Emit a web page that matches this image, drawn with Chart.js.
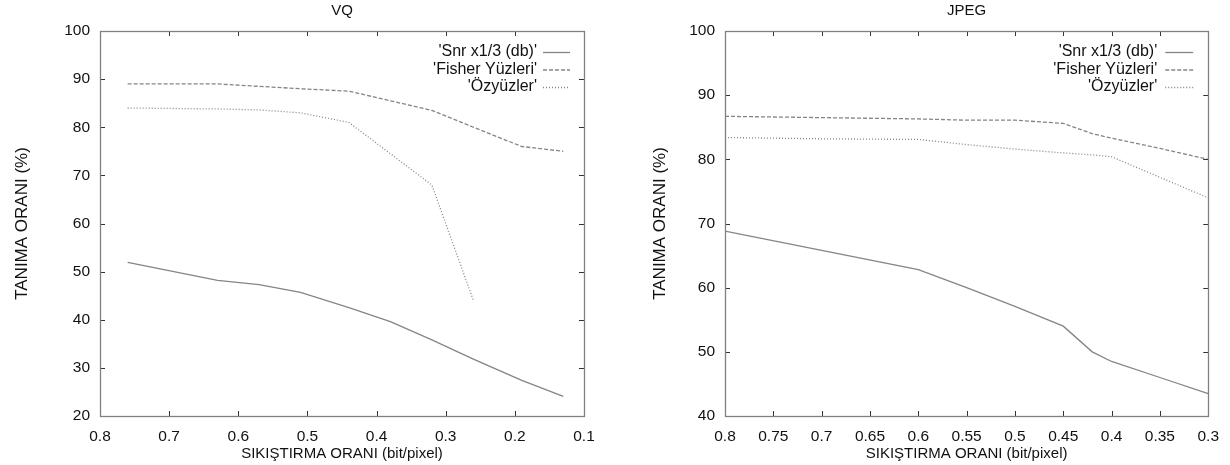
<!DOCTYPE html>
<html>
<head>
<meta charset="utf-8">
<script src="https://cdn.jsdelivr.net/npm/chart.js@4"></script>
<style>
  html, body { margin: 0; padding: 0; background: #fff; }
  .box { position: absolute; top: 0; width: 615px; height: 465px; }
  #b1 { left: 0; } #b2 { left: 615px; }
</style>
</head>
<body>
<div class="box" id="b1"><canvas id="c1" width="615" height="465"></canvas></div>
<div class="box" id="b2"><canvas id="c2" width="615" height="465"></canvas></div>
<script>
// ---- data ----
const seriesNames = ["'Snr x1/3 (db)'", "'Fisher Yüzleri'", "'Özyüzler'"];

const vqTitle = 'VQ';
const vqX      = [0.76, 0.63, 0.57, 0.51, 0.44, 0.38, 0.32, 0.26, 0.19, 0.13];
const vqSnr    = [51.9, 48.2, 47.3, 45.7, 42.5, 39.6, 35.8, 31.8, 27.4, 24.1];
const vqFisher = [89.0, 89.0, 88.5, 88.0, 87.5, 85.5, 83.5, 80.0, 76.0, 75.0];
const vqOzy    = [84.0, 83.8, 83.6, 83.0, 81.0, 74.5, 68.0, 44.0, null, null];

const jpegTitle = 'JPEG';
const jpegX      = [0.80, 0.70, 0.60, 0.55, 0.50, 0.45, 0.42, 0.40, 0.35, 0.30];
const jpegSnr    = [68.8, 65.8, 62.8, 60.0, 57.1, 54.0, 50.0, 48.5, 46.0, 43.5];
const jpegFisher = [86.7, 86.5, 86.3, 86.1, 86.1, 85.6, 84.0, 83.3, 81.7, 80.0];
const jpegOzy    = [83.4, 83.2, 83.1, 82.3, 81.6, 81.0, 80.7, 80.4, 77.2, 74.0];

const xAxisTitle = 'SIKIŞTIRMA ORANI (bit/pixel)';
const yAxisTitle = 'TANIMA ORANI (%)';

const vqXTicks = [0.8, 0.7, 0.6, 0.5, 0.4, 0.3, 0.2, 0.1];
const vqYTicks = [20, 30, 40, 50, 60, 70, 80, 90, 100];
const jpegXTicks = [0.8, 0.75, 0.7, 0.65, 0.6, 0.55, 0.5, 0.45, 0.4, 0.35, 0.3];
const jpegYTicks = [40, 50, 60, 70, 80, 90, 100];

const FONT = "'Liberation Sans', Arial, sans-serif";
const LINE = '#858585';
const dashes = [[], [4, 2], [1, 2]];

function pts(xs, ys) {
  return xs.map((x, i) => ({ x: x, y: ys[i] }));
}

const framePlugin = {
  id: 'gnuframe',
  afterDraw(chart, args, opts) {
    const ctx = chart.ctx, a = chart.chartArea;
    const xs = chart.scales.x, ys = chart.scales.y;
    ctx.save();
    // ticks (inward, mirrored)
    ctx.strokeStyle = '#333';
    ctx.lineWidth = 1;
    const tl = 5;
    ctx.beginPath();
    xs.ticks.forEach(t => {
      const px = Math.round(xs.getPixelForValue(t.value)) + 0.5;
      ctx.moveTo(px, a.bottom); ctx.lineTo(px, a.bottom - tl);
      ctx.moveTo(px, a.top); ctx.lineTo(px, a.top + tl);
    });
    ys.ticks.forEach(t => {
      const py = Math.round(ys.getPixelForValue(t.value)) + 0.5;
      ctx.moveTo(a.left, py); ctx.lineTo(a.left + tl, py);
      ctx.moveTo(a.right, py); ctx.lineTo(a.right - tl, py);
    });
    ctx.stroke();
    // frame
    ctx.strokeStyle = '#808080';
    ctx.lineWidth = 1.3;
    ctx.strokeRect(Math.round(a.left) + 0.5, Math.round(a.top) + 0.5,
                   Math.round(a.right - a.left), Math.round(a.bottom - a.top));
    // title
    ctx.fillStyle = '#111';
    ctx.font = '15px ' + FONT;
    ctx.textAlign = 'center';
    ctx.textBaseline = 'middle';
    ctx.fillText(opts.title, (a.left + a.right) / 2, 11);
    // legend (gnuplot style: text right-aligned, sample to its right)
    ctx.font = '16px ' + FONT;
    ctx.textAlign = 'right';
    chart.data.datasets.forEach((ds, i) => {
      const y = a.top + 21 + i * 17.5;
      ctx.fillStyle = '#111';
      ctx.fillText(ds.label, a.right - opts.textGap, y);
      ctx.strokeStyle = ds.borderColor;
      ctx.lineWidth = ds.borderWidth;
      ctx.setLineDash(ds.borderDash || []);
      ctx.beginPath();
      ctx.moveTo(a.right - opts.sampleStart, y + 0.5);
      ctx.lineTo(a.right - opts.sampleEnd, y + 0.5);
      ctx.stroke();
      ctx.setLineDash([]);
    });
    ctx.restore();
  }
};

function makeChart(id, cfg) {
  const datasets = [cfg.snr, cfg.fisher, cfg.ozy].map((ys, i) => ({
    label: seriesNames[i],
    data: pts(cfg.xs, ys),
    borderColor: LINE,
    borderWidth: 1.3,
    borderDash: dashes[i],
    pointRadius: 0,
    tension: 0,
    fill: false,
    spanGaps: false
  }));
  return new Chart(document.getElementById(id), {
    type: 'line',
    data: { datasets },
    plugins: [framePlugin],
    options: {
      responsive: false,
      animation: false,
      layout: { padding: { top: 31, right: cfg.padRight, left: 0, bottom: 0 } },
      plugins: {
        legend: { display: false },
        tooltip: { enabled: false },
        title: { display: false },
        gnuframe: { title: cfg.title, textGap: cfg.textGap, sampleStart: cfg.sampleStart, sampleEnd: cfg.sampleEnd }
      },
      scales: {
        x: {
          type: 'linear',
          reverse: true,
          min: cfg.xMin, max: cfg.xMax,
          afterBuildTicks: s => { s.ticks = cfg.xTicks.map(v => ({ value: v })); },
          grid: { display: false, drawTicks: false },
          border: { display: false },
          ticks: {
            color: '#111', padding: 11,
            font: { family: FONT, size: 15.5 },
            maxRotation: 0, autoSkip: false,
            callback: v => String(+(+v).toFixed(2))
          },
          title: { display: true, text: xAxisTitle, color: '#111',
                   font: { family: FONT, size: 15 }, padding: { top: 0, bottom: 2 } },
          afterFit: s => { s.height = 49; }
        },
        y: {
          type: 'linear',
          min: cfg.yMin, max: cfg.yMax,
          afterBuildTicks: s => { s.ticks = cfg.yTicks.map(v => ({ value: v })); },
          grid: { display: false, drawTicks: false },
          border: { display: false },
          ticks: {
            color: '#111', padding: cfg.yPad,
            font: { family: FONT, size: 15.5 },
            callback: v => String(v)
          },
          title: { display: true, text: yAxisTitle, color: '#111',
                   font: { family: FONT, size: 17 }, padding: { top: cfg.yTitlePad, bottom: 0 } },
          afterFit: s => { s.width = cfg.yWidth; }
        }
      }
    }
  });
}

makeChart('c1', {
  title: vqTitle, xs: vqX, snr: vqSnr, fisher: vqFisher, ozy: vqOzy,
  xMin: 0.1, xMax: 0.8, yMin: 20, yMax: 100, xTicks: vqXTicks, yTicks: vqYTicks,
  yWidth: 100, padRight: 31, yPad: 10, yTitlePad: 12,
  textGap: 47, sampleStart: 41, sampleEnd: 14
});
makeChart('c2', {
  title: jpegTitle, xs: jpegX, snr: jpegSnr, fisher: jpegFisher, ozy: jpegOzy,
  xMin: 0.3, xMax: 0.8, yMin: 40, yMax: 100, xTicks: jpegXTicks, yTicks: jpegYTicks,
  yWidth: 110, padRight: 19, yPad: 10, yTitlePad: 35,
  textGap: 51, sampleStart: 43, sampleEnd: 15
});
</script>
</body>
</html>
